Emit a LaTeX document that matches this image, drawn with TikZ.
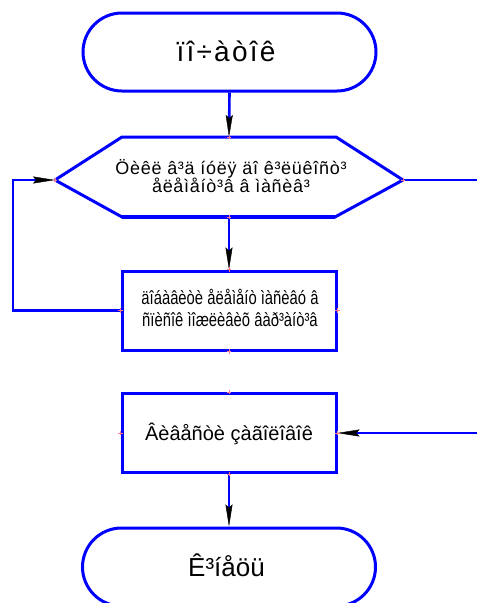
\documentclass[tikz,border=0pt]{standalone}
\usepackage{fontspec}
\setmainfont{Liberation Sans}
\usetikzlibrary{arrows.meta}
\definecolor{flowblue}{RGB}{0,0,255}
\definecolor{portpink}{RGB}{255,120,140}

\begin{document}
\begin{tikzpicture}[x=1pt,y=-1pt,
  outline/.style={draw=flowblue, line width=3pt},
  terminal/.style={outline, rounded corners=39pt, minimum width=293pt,
    minimum height=78pt, inner sep=0pt},
  process/.style={outline, minimum width=214pt, minimum height=79pt, inner sep=0pt},
  link/.style={draw=flowblue, line width=2.6pt},
  tip/.style={-{Stealth[length=22pt, width=7pt, inset=3pt, black, line width=0.4pt]}},
  portmark/.style={draw=portpink, line width=0.8pt},
]
\useasboundingbox (0,0) rectangle (477,603);

% terminals
\node[terminal] (start) at (229.5,52) {};
\node[anchor=base] (starttext) at (226,61)
  {\fontsize{28}{32}\selectfont\addfontfeatures{LetterSpace=8}ïî÷àòîê};

\node[terminal] (stop) at (229,567) {};
\node[anchor=base] (stoptext) at (226.5,576)
  {\fontsize{26}{30}\selectfont Ê³íåöü};

% loop header (hexagon)
\coordinate (hw) at (55,180);
\coordinate (he) at (403,180);
\coordinate (hn) at (229,137);
\coordinate (hs) at (229,217);
\draw[outline, line join=miter] (hw) -- (122,137) -- (336,137) -- (he);
\draw[outline, line join=miter] (he) -- (335,217) -- (122,217) -- (hw);
\draw[flowblue, line width=4.5pt] (122,217) -- (335,217);
\node[align=center, inner sep=0pt,
      font=\fontsize{18}{18.3}\selectfont\addfontfeatures{LetterSpace=4}]
  (hextext) at (231,176)
  {Öèêë â³ä íóëÿ äî ê³ëüêîñò³\\åëåìåíò³â â ìàñèâ³};

% process boxes
\node[process] (body) at (229,310.5) {};
\node (bodytext) at (230,311)
  {\fontsize{19}{22}\selectfont\scalebox{0.78}[1]{%
   \begin{tabular}{@{}c@{}}äîáàâèòè åëåìåíò ìàñèâó â\\ñïèñîê ìîæëèâèõ âàð³àíò³â\end{tabular}}};

\node[process] (head) at (229,433) {};
\node[anchor=base] (headtext) at (229,440)
  {\fontsize{20}{24}\selectfont Âèâåñòè çàãîëîâîê};

% free ends at the picture edge
\coordinate (exit) at (477,180);
\coordinate (entry) at (477,433);
\coordinate (loopbot) at (13,310.5);
\coordinate (looptop) at (13,180);

% connectors
\draw[link, tip] (start.south) -- (hn);
\draw[link, tip] (hs) -- (body.north);
\draw[link, tip] (body.west) -- (loopbot) -- (looptop) -- (hw);
\draw[link] (he) -- (exit);
\draw[link, tip] (entry) -- (head.east);
\draw[link, tip] (head.south) -- (stop.north);

% connection points
\foreach \p in {hw, he, hn, hs, body.north, body.south, body.west, body.east,
                head.north, head.south, head.west, head.east}
  \draw[portmark] (\p) +(-2.2,0) -- +(2.2,0) (\p) +(0,-2.2) -- +(0,2.2);
\end{tikzpicture}
\end{document}
